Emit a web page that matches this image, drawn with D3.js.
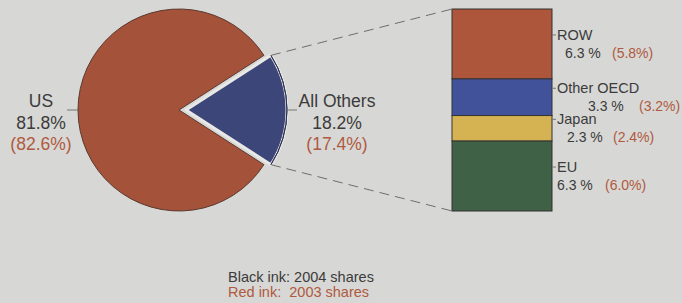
<!DOCTYPE html>
<html>
<head>
<meta charset="utf-8">
<script src="https://cdn.jsdelivr.net/npm/d3@7"></script>
<style>
  html, body { margin: 0; padding: 0; background: #d7d7d5; }
  svg { display: block; }
  text { font-family: "Liberation Sans", Arial, sans-serif; }
</style>
</head>
<body>
<div id="chart"></div>
<script>
// Pie: US vs everyone else
const pieLabels = ["US", "All Others"];
const pie2004 = [81.8, 18.2];
const pie2003 = [82.6, 17.4];

// Breakdown of "All Others", top to bottom
const barLabels = ["ROW", "Other OECD", "Japan", "EU"];
const bar2004 = [6.3, 3.3, 2.3, 6.3];
const bar2003 = [5.8, 3.2, 2.4, 6.0];

const width = 682, height = 303;
const black = "#3b3b3b", red = "#b05a40";

const svg = d3.select("#chart")
              .append("svg")
              .attr("width", width)
              .attr("height", height);

// ---- pie ----
const cx = 179, cy = 110, r = 101, explode = 7;
const pieColors = ["#a4523a", "#3c4678"];

const othersShare = pie2004[1] / d3.sum(pie2004);
const pie = d3.pie()
              .sort(null)
              .startAngle(Math.PI / 2 + Math.PI * othersShare)
              .endAngle(Math.PI / 2 + Math.PI * othersShare + 2 * Math.PI);
const arc = d3.arc().innerRadius(0).outerRadius(r);
const slices = pie(pie2004);

const gPie = svg.append("g").attr("transform", `translate(${cx}, ${cy})`);

gPie.selectAll("path")
    .data(slices)
    .join("path")
    .attr("transform", (d, i) => {
        if (i === 0) return null;
        const a = (d.startAngle + d.endAngle) / 2;
        return `translate(${Math.sin(a) * explode}, ${-Math.cos(a) * explode})`;
    })
    .attr("d", arc)
    .attr("fill", (d, i) => pieColors[i])
    .attr("stroke", (d, i) => i === 0 ? "#5a3a30" : "#e8e8e6")
    .attr("stroke-width", (d, i) => i === 0 ? 1 : 3)
    .attr("stroke-linejoin", "round");

// thin outer rim on the exploded slice
const others = slices[1];
const oa = (others.startAngle + others.endAngle) / 2;
const ox = Math.sin(oa) * explode, oy = -Math.cos(oa) * explode;
gPie.append("path")
    .attr("transform", `translate(${ox}, ${oy})`)
    .attr("d", d3.arc().innerRadius(r).outerRadius(r)(others))
    .attr("fill", "none")
    .attr("stroke", "#2e3455")
    .attr("stroke-width", 1);

// pie labels
const usX = 41, othersX = 337;
svg.append("line")
   .attr("x1", 67).attr("x2", cx - r).attr("y1", cy).attr("y2", cy)
   .attr("stroke", "#777").attr("stroke-width", 1);
svg.append("line")
   .attr("x1", cx + r + ox).attr("x2", cx + r + ox + 10).attr("y1", cy).attr("y2", cy)
   .attr("stroke", "#777").attr("stroke-width", 1);

[usX, othersX].forEach((x, i) => {
    const g = svg.append("g").attr("text-anchor", "middle").style("font-size", "17.5px");
    g.append("text").attr("x", x).attr("y", 107).attr("fill", black).text(pieLabels[i]);
    g.append("text").attr("x", x).attr("y", 129).attr("fill", black).text(pie2004[i].toFixed(1) + "%");
    g.append("text").attr("x", x).attr("y", 150).attr("fill", red).text("(" + pie2003[i].toFixed(1) + "%)");
});

// ---- stacked bar ----
const barX = 452, barW = 100;
const barColors = ["#ad563b", "#41529a", "#d6b352", "#3f6146"];
const total = d3.sum(bar2004);
const y = d3.scaleLinear().domain([0, total]).range([211, 9]);

// cumulative from the bottom (EU) up
const tops = bar2004.map((v, i) => d3.sum(bar2004.slice(i)));
const bottoms = bar2004.map((v, i) => d3.sum(bar2004.slice(i + 1)));

// dashed connectors
const dashed = [[cx + ox + Math.sin(others.startAngle) * r, cy + oy - Math.cos(others.startAngle) * r, y(total)],
                [cx + ox + Math.sin(others.endAngle) * r, cy + oy - Math.cos(others.endAngle) * r, y(0)]];
svg.selectAll(".connector")
   .data(dashed)
   .join("line")
   .attr("class", "connector")
   .attr("x1", d => d[0]).attr("y1", d => d[1])
   .attr("x2", barX).attr("y2", d => d[2])
   .attr("stroke", "#6e6e6e")
   .attr("stroke-width", 1)
   .attr("stroke-dasharray", "10,6");

svg.selectAll(".seg")
   .data(bar2004)
   .join("rect")
   .attr("class", "seg")
   .attr("x", barX)
   .attr("width", barW)
   .attr("y", (d, i) => y(tops[i]))
   .attr("height", (d, i) => y(bottoms[i]) - y(tops[i]))
   .attr("fill", (d, i) => barColors[i])
   .attr("stroke", "#333")
   .attr("stroke-width", 1);

// label indents for the value lines (as laid out in the original)
const valueIndent = [8, 31, 10, 0];
const redIndent = [55, 82, 56, 48];
const labelX = barX + barW + 5;

barLabels.forEach((name, i) => {
    const mid = (y(tops[i]) + y(bottoms[i])) / 2;
    const g = svg.append("g").style("font-size", "14.5px");
    svg.append("line")
       .attr("x1", barX + barW).attr("x2", barX + barW + 4)
       .attr("y1", mid - 9).attr("y2", mid - 9)
       .attr("stroke", "#777");
    g.append("text").attr("x", labelX).attr("y", mid - 4).attr("fill", black).text(name);
    g.append("text").attr("x", labelX + valueIndent[i]).attr("y", mid + 14).attr("fill", black)
     .style("font-size", "14px")
     .text(bar2004[i].toFixed(1) + " %");
    g.append("text").attr("x", labelX + redIndent[i]).attr("y", mid + 14).attr("fill", red)
     .style("font-size", "14px")
     .text("(" + bar2003[i].toFixed(1) + "%)");
});

// ---- key ----
const key = svg.append("g").style("font-size", "14.5px");
key.append("text").attr("x", 228).attr("y", 282).attr("fill", black).text("Black ink: 2004 shares");
key.append("text").attr("x", 228).attr("y", 297).attr("fill", red)
   .attr("xml:space", "preserve").style("white-space", "pre").text("Red ink:  2003 shares");
</script>
</body>
</html>
